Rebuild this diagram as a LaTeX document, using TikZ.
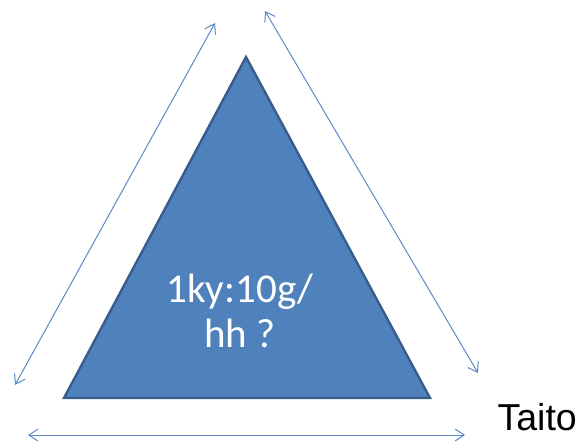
\documentclass[tikz,border=0pt]{standalone}
\usepackage{fontspec}
\setmainfont{Carlito}
\newfontfamily\taitofont{Liberation Sans}
\usetikzlibrary{arrows.meta}
\definecolor{triblue}{HTML}{4F81BD}
\definecolor{triedge}{HTML}{385D8A}
\definecolor{arrblue}{HTML}{5B8AC8}
\begin{document}
\begin{tikzpicture}[x=1pt, y=-1pt, >={Straight Barb[length=9pt,width=12pt]}]
    \useasboundingbox (0,0) rectangle (583,443);
    \tikzstyle{dbl}=[<->, arrblue, line width=1pt]
    % triangle corners
    \coordinate (top) at (246,57);
    \coordinate (bl) at (64,398);
    \coordinate (br) at (430,398);
    \fill[triblue] (top) -- (br) -- (bl) -- cycle;
    \draw[triedge, line width=2.4pt, line join=miter] (top) -- (br) -- (bl) -- cycle;
    \node[anchor=base, align=center, white, font=\fontsize{41}{45}\selectfont] (ratio) at (240,347) {1ky:10g/\\hh ?};
    \node[anchor=base west, font=\taitofont\fontsize{37.5}{45}\selectfont] (taito) at (494,430) {Taito};
    % arrow ends
    \coordinate (l1) at (15,385); \coordinate (l2) at (215,23);
    \coordinate (r1) at (265,11); \coordinate (r2) at (478,373);
    \coordinate (b1) at (28,435); \coordinate (b2) at (465,435);
    \draw[dbl] (l1) -- (l2);
    \draw[dbl] (r1) -- (r2);
    \draw[dbl] (b1) -- (b2);
\end{tikzpicture}
\end{document}
